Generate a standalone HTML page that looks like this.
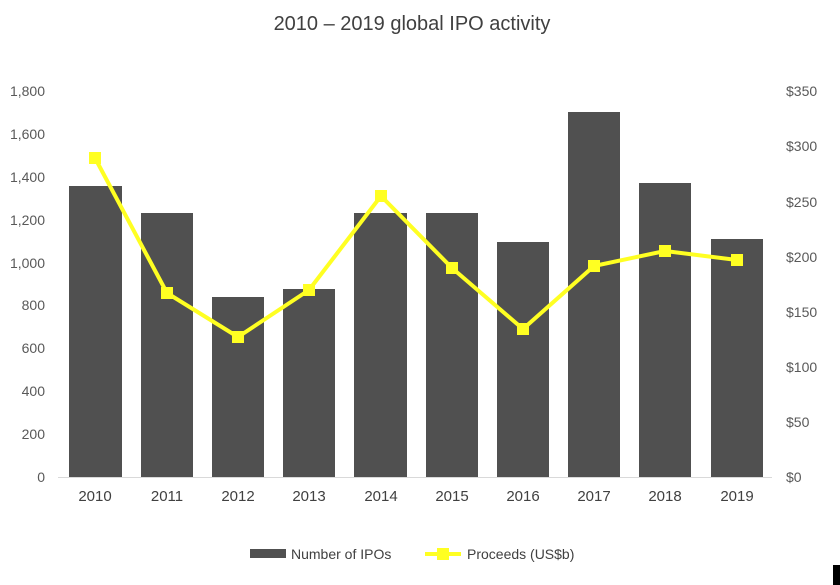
<!DOCTYPE html>
<html><head><style>body{margin:0;background:#fff}svg{display:block}</style></head><body>
<svg width="840" height="585" xmlns="http://www.w3.org/2000/svg" font-family="Liberation Sans, sans-serif">
<rect width="840" height="585" fill="#fff"/>
<text x="412" y="30" text-anchor="middle" font-size="20" fill="#404040">2010 – 2019 global IPO activity</text>
<g font-size="14" fill="#595959">
<text x="45" y="482" text-anchor="end">0</text>
<text x="45" y="439" text-anchor="end">200</text>
<text x="45" y="396" text-anchor="end">400</text>
<text x="45" y="353" text-anchor="end">600</text>
<text x="45" y="310" text-anchor="end">800</text>
<text x="45" y="268" text-anchor="end">1,000</text>
<text x="45" y="225" text-anchor="end">1,200</text>
<text x="45" y="182" text-anchor="end">1,400</text>
<text x="45" y="139" text-anchor="end">1,600</text>
<text x="45" y="96" text-anchor="end">1,800</text>
<text x="786" y="482">$0</text>
<text x="786" y="427">$50</text>
<text x="786" y="372">$100</text>
<text x="786" y="317">$150</text>
<text x="786" y="262">$200</text>
<text x="786" y="207">$250</text>
<text x="786" y="151">$300</text>
<text x="786" y="96">$350</text>
</g>
<g fill="#505050">
<rect x="69" y="186" width="53" height="291"/>
<rect x="141" y="213" width="52" height="264"/>
<rect x="212" y="297" width="52" height="180"/>
<rect x="283" y="289" width="52" height="188"/>
<rect x="354" y="213" width="53" height="264"/>
<rect x="426" y="213" width="52" height="264"/>
<rect x="497" y="242" width="52" height="235"/>
<rect x="568" y="112" width="52" height="365"/>
<rect x="639" y="183" width="52" height="294"/>
<rect x="711" y="239" width="52" height="238"/>
</g>
<line x1="58" y1="477.5" x2="772" y2="477.5" stroke="#d9d9d9" stroke-width="1"/>
<g font-size="15" fill="#404040" text-anchor="middle">
<text x="95" y="501">2010</text><text x="167" y="501">2011</text><text x="238" y="501">2012</text>
<text x="309" y="501">2013</text><text x="381" y="501">2014</text><text x="452" y="501">2015</text>
<text x="523" y="501">2016</text><text x="594" y="501">2017</text><text x="665" y="501">2018</text>
<text x="737" y="501">2019</text>
</g>
<polyline fill="none" stroke="#ffff22" stroke-width="4" stroke-linejoin="round" points="95,158 167,293 238,337 309,290 381,196 452,268 523,329 594,266 665,251 737,260"/>
<g fill="#ffff22">
<rect x="89" y="152" width="12" height="12"/><rect x="161" y="287" width="12" height="12"/>
<rect x="232" y="331" width="12" height="12"/><rect x="303" y="284" width="12" height="12"/>
<rect x="375" y="190" width="12" height="12"/><rect x="446" y="262" width="12" height="12"/>
<rect x="517" y="323" width="12" height="12"/><rect x="588" y="260" width="12" height="12"/>
<rect x="659" y="245" width="12" height="12"/><rect x="731" y="254" width="12" height="12"/>
</g>
<rect x="250" y="549" width="36" height="9" fill="#505050"/>
<text x="291" y="559" font-size="14" fill="#404040">Number of IPOs</text>
<line x1="425" y1="554" x2="461" y2="554" stroke="#ffff22" stroke-width="4"/>
<rect x="437" y="548" width="12" height="12" fill="#ffff22"/>
<text x="467" y="559" font-size="14" fill="#404040">Proceeds (US$b)</text>
<rect x="833" y="565" width="7" height="20" fill="#000"/>
</svg>
</body></html>
